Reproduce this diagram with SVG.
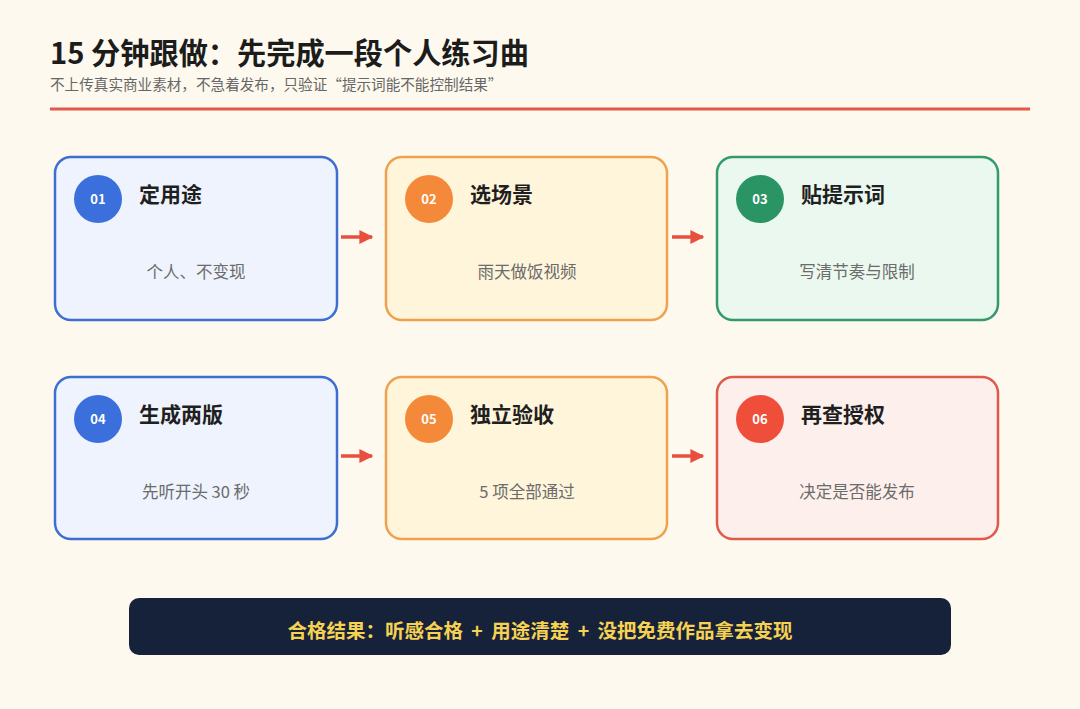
<svg xmlns="http://www.w3.org/2000/svg" width="1080" height="709" viewBox="0 0 1080 709">
<defs>
<style>
.t{font-family:"Noto Sans CJK SC","Noto Sans",sans-serif}
.title{font-size:29.2px;font-weight:700;fill:#1c1c1c}
.sub{font-size:14.6px;fill:#666}
.ct{font-size:21px;font-weight:700;fill:#1f1f1f}
.cd{font-size:16.5px;fill:#6b6b6b}
.num{font-size:13px;font-weight:700;fill:#fff}
.card{stroke-width:2.5}
.blue{fill:#eef3fd;stroke:#3d6fd2}
.orange{fill:#fff5da;stroke:#eea24f}
.green{fill:#eaf8ef;stroke:#339a6c}
.red{fill:#fdefeb;stroke:#de5a4b}
.conn{stroke:#e8503e;stroke-width:3.5;fill:none}
</style>
<marker id="ah" viewBox="0 0 10 10" refX="9" refY="5" markerWidth="4" markerHeight="4" orient="auto" markerUnits="strokeWidth">
<path d="M0,0 L10,5 L0,10 z" fill="#e8503e"/>
</marker>
</defs>
<rect width="1080" height="709" fill="#fdf9ee"/>
<text class="t title" x="50" y="64">15 分钟跟做：先完成一段个人练习曲</text>
<text class="t sub" x="50" y="90">不上传真实商业素材，不急着发布，只验证“提示词能不能控制结果”</text>
<rect x="50" y="107.5" width="980" height="3" fill="#e4574a"/>

<g id="node1">
<rect class="card blue" x="55" y="157" width="282" height="163" rx="16"/>
<circle cx="98" cy="199" r="24" fill="#3a6fdc"/>
<text class="t num" x="98" y="204" text-anchor="middle">01</text>
<text class="t ct" x="139" y="202">定用途</text>
<text class="t cd" x="196" y="278" text-anchor="middle">个人、不变现</text>
</g>
<g id="node2">
<rect class="card orange" x="386" y="157" width="281" height="163" rx="16"/>
<circle cx="429" cy="199" r="24" fill="#f5893a"/>
<text class="t num" x="429" y="204" text-anchor="middle">02</text>
<text class="t ct" x="470" y="202">选场景</text>
<text class="t cd" x="527" y="278" text-anchor="middle">雨天做饭视频</text>
</g>
<g id="node3">
<rect class="card green" x="717" y="157" width="281" height="163" rx="16"/>
<circle cx="760" cy="199" r="24" fill="#2a9464"/>
<text class="t num" x="760" y="204" text-anchor="middle">03</text>
<text class="t ct" x="801" y="202">贴提示词</text>
<text class="t cd" x="857" y="278" text-anchor="middle">写清节奏与限制</text>
</g>
<g id="node4">
<rect class="card blue" x="55" y="377" width="282" height="162" rx="16"/>
<circle cx="98" cy="419" r="24" fill="#3a6fdc"/>
<text class="t num" x="98" y="424" text-anchor="middle">04</text>
<text class="t ct" x="139" y="422">生成两版</text>
<text class="t cd" x="196" y="498" text-anchor="middle">先听开头 30 秒</text>
</g>
<g id="node5">
<rect class="card orange" x="386" y="377" width="281" height="162" rx="16"/>
<circle cx="429" cy="419" r="24" fill="#f5893a"/>
<text class="t num" x="429" y="424" text-anchor="middle">05</text>
<text class="t ct" x="470" y="422">独立验收</text>
<text class="t cd" x="527" y="498" text-anchor="middle">5 项全部通过</text>
</g>
<g id="node6">
<rect class="card red" x="717" y="377" width="281" height="162" rx="16"/>
<circle cx="760" cy="419" r="24" fill="#ef4f3a"/>
<text class="t num" x="760" y="424" text-anchor="middle">06</text>
<text class="t ct" x="801" y="422">再查授权</text>
<text class="t cd" x="857" y="498" text-anchor="middle">决定是否能发布</text>
</g>

<g id="connectors">
<line class="conn" x1="341" y1="237" x2="372" y2="237" marker-end="url(#ah)"/>
<line class="conn" x1="672" y1="237" x2="703" y2="237" marker-end="url(#ah)"/>
<line class="conn" x1="341" y1="456" x2="372" y2="456" marker-end="url(#ah)"/>
<line class="conn" x1="672" y1="456" x2="703" y2="456" marker-end="url(#ah)"/>
</g>

<g id="result">
<rect x="129" y="598" width="822" height="57" rx="10" fill="#16213a"/>
<text class="t" x="540" y="638" text-anchor="middle" font-size="19.5" font-weight="700" word-spacing="4" fill="#f6d252">合格结果：听感合格 + 用途清楚 + 没把免费作品拿去变现</text>
</g>
</svg>
